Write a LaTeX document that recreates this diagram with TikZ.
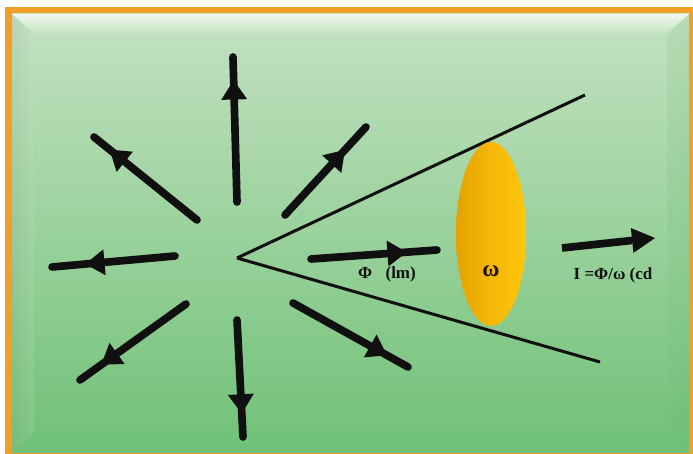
\documentclass[tikz,border=0pt]{standalone}
\usepackage{fontspec}
\setmainfont{Liberation Serif}
\usetikzlibrary{arrows.meta,decorations.markings,calc}

\definecolor{framecol}{HTML}{EF9F2A}
\definecolor{bgtop}{HTML}{C4E2C2}
\definecolor{bgbot}{HTML}{70C177}
\definecolor{lensleft}{HTML}{E3A304}
\definecolor{lensmid}{HTML}{F4B707}
\definecolor{lensright}{HTML}{FFC70C}
\definecolor{inkcol}{HTML}{101010}

\begin{document}
\begin{tikzpicture}[x=0.03cm,y=-0.03cm]
        \tikzset{fluxarrow/.style={line width=0.23cm, line cap=round, inkcol,
                   postaction={decorate}, decoration={markings,
                   mark=at position #1 with {\arrow{Triangle[length=0.58cm, width=0.78cm, line width=0pt]}}}}}
        \tikzset{cone/.style={line width=0.09cm, inkcol}}
        \tikzset{lbl/.style={font=\bfseries\fontsize{14.5}{16}\selectfont, text=inkcol, inner sep=0pt}}
        \useasboundingbox (0,0) rectangle (693,454);
        % frame and background
        \fill[white] (0,0) rectangle (693,454);
        \fill[framecol] (5,7) rectangle (693,454);
        \shade[top color=bgtop, bottom color=bgbot] (12,14) rectangle (689,452);
        \shade[top color=white, bottom color=bgtop, opacity=0.75] (12,14) -- (689,14) -- (667,34) -- (34,34) -- cycle;
        \shade[left color=black!25!bgtop, right color=bgtop, opacity=0.2] (12,14) -- (34,34) -- (34,432) -- (12,452) -- cycle;
        \shade[left color=bgbot, right color=black!10!bgbot, opacity=0.15] (667,34) -- (689,14) -- (689,452) -- (667,432) -- cycle;

        % source and cone
        \coordinate (src) at (237,258);
        \coordinate (coneup) at (585,95);
        \coordinate (conedown) at (600,362);
        \draw[cone] (src) -- (coneup);
        \draw[cone] (src) -- (conedown);

        % radiating flux arrows: start / end / head position
        \foreach \name/\sx/\sy/\ex/\ey/\p in {up/237/202/233/57/0.84, upleft/197/220/94/137/0.85,
                 upright/285/215/366/127/0.74, left/175/256/52/267/0.73, downleft/186/304/80/380/0.80,
                 down/237/320/243/437/0.80, downright/293/303/408/367/0.82, right/311/259/437/250/0.76} {
            \coordinate (\name-a) at (\sx,\sy);
            \coordinate (\name-b) at (\ex,\ey);
            \draw[fluxarrow=\p] (\name-a) -- (\name-b);
        }

        % solid angle
        \coordinate (lens) at (491,234);
        \shade[left color=lensleft, right color=lensright, middle color=lensmid] (lens) ellipse [x radius=35, y radius=92];
        \node[lbl, font=\bfseries\fontsize{20}{22}\selectfont, text=black!85!brown] (omega) at (491,271) {ω};

        % luminous intensity arrow
        \coordinate (int-a) at (562,248);
        \coordinate (int-b) at (655,238);
        \draw[line width=0.23cm, inkcol, -{Triangle[length=0.69cm, width=0.75cm, line width=0pt]}] (int-a) -- (int-b);

        \node[lbl] (flux) at (387,274) {Φ\hspace{0.4cm}(lm)};
        \node[lbl] (intensity) at (613,275) {I =Φ/ω (cd};
\end{tikzpicture}
\end{document}
